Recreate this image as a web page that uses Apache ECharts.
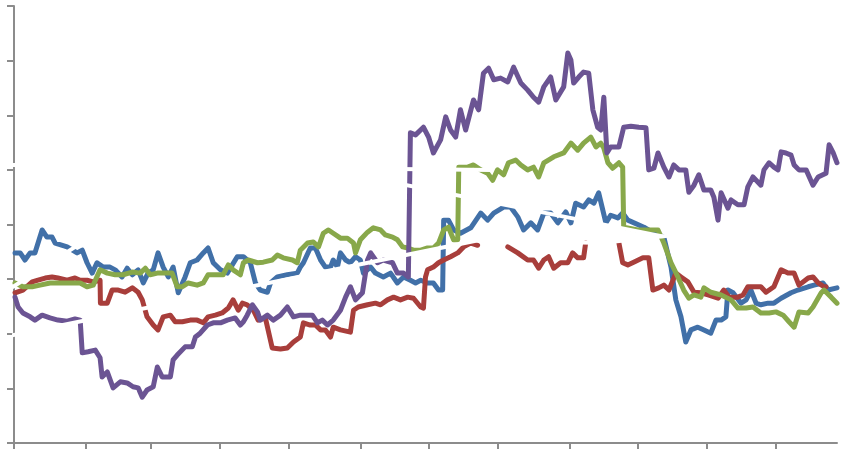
<!DOCTYPE html>
<html>
<head>
<meta charset="utf-8">
<script src="https://cdn.jsdelivr.net/npm/echarts@6/dist/echarts.min.js"></script>
<style>
html,body{margin:0;padding:0;background:#fff;}
#chart{width:843px;height:449px;}
</style>
</head>
<body>
<div id="chart"></div>
<script>
// x values: trading-day index (0..240); y values: index level (0..80)
const monthTicks = [0, 21, 40, 60, 80, 101, 121, 141, 162, 182, 202, 222];

const blueSeries = [
[0.3,34.8],[1.8,34.8],[3.2,33.5],[4.7,34.8],[6.1,34.8],[8.2,39.0],[9.6,37.7],[11.1,37.7],[12.0,36.6],[15.5,35.9],
[18.4,34.8],[19.9,35.3],[21.3,33.0],[22.8,31.1],[24.2,33.0],[26.0,32.2],[28.0,32.2],[29.5,31.7],[31.5,30.4],[33.0,32.0],
[34.5,30.8],[36.2,31.7],[37.7,29.3],[39.1,31.1],[40.6,31.7],[42.0,34.8],[43.5,32.2],[45.0,30.4],[46.4,32.2],[47.9,27.5],
[49.9,30.4],[51.4,33.0],[53.4,33.5],[55.2,34.8],[56.6,35.7],[58.1,33.0],[60.2,31.7],[62.2,31.1],[65.1,34.1],[66.9,34.1],
[68.9,33.0],[70.4,29.3],[71.8,28.0],[73.9,27.6],[74.8,29.3],[76.8,30.4],[79.7,30.8],[82.6,31.1],[83.5,32.2],[84.4,33.0],
[86.4,35.7],[87.9,35.7],[89.4,33.5],[90.8,32.2],[92.3,32.2],[93.1,33.5],[94.3,32.2],[95.2,34.8],[96.7,33.5],[98.1,33.0],
[99.6,34.1],[101.0,33.5],[101.9,31.1],[104.0,32.2],[105.4,31.1],[107.7,30.4],[109.8,31.1],[111.8,29.3],[113.6,30.4],[115.6,29.8],
[117.1,29.3],[118.6,29.8],[120.6,29.3],[122.3,29.3],[123.8,28.0],[125.0,28.0],[125.3,40.8],[126.7,40.8],[128.2,39.0],[130.2,38.4],
[133.2,39.4],[136.1,42.1],[138.1,40.8],[139.9,42.1],[142.8,43.2],[144.8,43.2],[146.9,41.4],[148.6,39.0],[150.7,40.3],[152.7,39.0],
[154.5,42.1],[156.5,42.1],[158.6,40.3],[160.9,42.3],[162.4,40.3],[163.8,43.9],[166.1,43.2],[167.6,44.5],[169.1,43.9],[170.5,45.8],
[172.6,40.3],[174.0,41.7],[176.1,41.2],[177.5,42.1],[179.0,40.8],[183.7,39.5],[186.6,38.4],[189.5,37.7],[191.6,32.2],[193.0,26.2],
[194.5,23.1],[195.9,18.5],[197.4,20.7],[199.4,21.2],[201.2,20.7],[203.2,20.1],[204.7,22.5],[206.2,22.5],[207.6,23.1],[208.2,28.0],
[209.7,27.5],[212.0,25.6],[213.5,26.2],[214.9,28.0],[216.4,25.6],[217.8,25.3],[219.9,25.6],[221.6,25.6],[223.7,26.5],[226.6,27.5],
[228.6,28.0],[231.6,28.6],[233.3,28.9],[235.9,29.3],[237.4,28.0],[240,28.4]
];

// '-' marks stretches hidden in the reference
const redSeries = [
[0.3,27.5],[2.6,28.0],[5.3,29.5],[7.0,29.8],[9.1,30.2],[11.1,30.4],[12.8,30.2],[15.5,29.8],[17.8,30.2],[19.3,29.8],
[21.3,29.8],[23.1,29.5],[25.1,29.8],[25.2,25.6],[27.2,25.6],[28.6,28.0],[30.4,28.0],[32.4,27.6],[34.5,28.4],[36.2,27.6],
[37.4,26.2],[38.8,23.1],[40.6,21.6],[42.0,20.7],[43.5,23.1],[45.6,23.4],[47.0,22.2],[49.1,22.2],[51.4,22.5],[53.4,22.5],
[55.2,22.0],[56.6,23.1],[58.7,23.4],[60.7,23.8],[62.5,24.7],[63.9,26.2],[65.4,24.3],[66.6,25.6],[68.0,25.3],[69.8,24.3],
[71.2,22.5],[73.3,22.9],[75.3,17.4],[77.7,17.2],[79.7,17.4],[81.5,18.5],[83.5,19.4],[84.4,22.0],[86.4,21.6],[87.9,21.6],
[89.4,20.7],[90.8,20.7],[92.3,19.4],[93.1,21.2],[95.2,20.7],[98.1,20.3],[99.0,24.3],[100.4,24.9],[103.1,25.3],[105.4,25.6],
[106.9,25.3],[108.9,26.2],[110.7,26.7],[112.7,26.2],[114.8,26.7],[116.5,26.5],[118.6,24.9],[119.4,24.7],[120.0,30.4],[120.6,31.7],
[122.3,32.2],[123.8,33.0],[125.3,33.5],[127.3,34.1],[129.4,34.8],[131.1,35.9],[133.2,36.6],[135.2,36.2],[139.6,'-'],[144.0,35.9],[146.9,34.8],
[149.8,33.5],[151.5,33.5],[153.0,32.0],[154.5,33.5],[155.9,34.1],[157.4,32.0],[159.4,33.0],[161.5,33.0],[162.9,34.8],[164.4,33.9],
[166.1,33.9],[166.7,36.6],[171.5,'-'],[176.4,36.6],[177.5,33.0],[179.0,32.6],[180.7,33.1],[183.4,33.9],[185.1,33.9],[186.3,28.0],
[188.0,28.4],[189.5,28.9],[191.0,28.0],[193.0,31.1],[194.5,30.4],[196.5,29.5],[198.3,27.6],[200.3,27.5],[202.4,27.1],[205.3,26.5],
[207.0,28.0],[208.5,26.7],[211.1,26.7],[212.6,27.1],[214.0,28.6],[215.8,28.6],[217.8,28.6],[219.3,27.6],[221.6,28.6],[223.7,31.7],
[225.7,31.1],[227.5,31.1],[228.9,28.9],[231.6,30.2],[233.0,30.4],[234.5,29.3],[236.2,28.6],[236.8,28.6]
];

const greenSeries = [
[0.3,29.3],[2.6,28.6],[5.3,28.6],[7.6,28.9],[10.5,29.3],[13.4,29.3],[16.4,29.3],[19.3,29.3],[21.3,28.6],[23.1,28.9],
[25.1,31.7],[27.2,31.1],[29.5,30.8],[31.8,30.8],[34.5,31.3],[36.8,31.1],[38.3,32.0],[39.7,30.8],[41.8,31.1],[44.1,31.1],
[46.1,31.1],[47.6,28.6],[49.1,28.6],[50.8,29.3],[53.4,28.9],[55.2,29.3],[56.6,30.8],[59.3,30.8],[61.0,30.8],[62.5,32.6],
[63.9,31.7],[66.0,30.8],[66.9,33.0],[68.3,33.5],[71.0,33.0],[72.7,33.1],[75.3,33.5],[76.8,34.4],[78.5,33.9],[81.2,33.5],
[82.6,33.0],[83.5,35.3],[85.6,36.6],[87.3,36.8],[88.8,35.9],[90.2,38.4],[91.7,39.0],[93.1,38.4],[95.2,37.5],[97.2,37.5],
[99.0,36.6],[99.6,34.8],[101.0,37.2],[103.1,38.6],[104.8,39.4],[106.9,39.0],[108.3,38.1],[110.4,37.7],[111.8,37.2],[113.3,35.9],
[114.8,35.7],[116.5,35.3],[118.6,35.3],[120.6,35.7],[122.3,35.7],[123.8,36.6],[125.3,39.0],[126.7,39.5],[128.2,37.2],[129.4,37.2],
[129.7,50.5],[132.3,50.5],[134.0,50.9],[136.1,50.0],[138.1,49.4],[139.6,48.1],[141.0,50.0],[142.8,49.1],[144.2,51.3],[146.3,51.8],
[147.8,50.9],[149.8,50.0],[151.5,50.5],[153.0,48.7],[154.5,51.3],[157.4,52.4],[160.3,53.1],[162.4,54.9],[164.4,53.6],[166.1,54.9],
[168.2,56.0],[169.7,54.2],[171.1,54.9],[172.0,54.0],[173.2,51.3],[174.6,50.3],[176.4,51.3],[177.5,50.5],[177.8,39.5],[181.9,39.0],
[187.8,39.0],[189.5,36.6],[191.6,33.0],[193.6,30.4],[195.3,28.0],[196.8,26.5],[198.3,27.1],[200.3,26.7],[201.2,28.4],[203.2,27.6],
[206.2,27.1],[209.1,26.2],[211.1,24.7],[213.5,24.7],[215.5,24.9],[217.8,23.8],[220.2,23.8],[222.2,24.0],[224.3,23.4],[226.0,22.2],
[227.5,21.2],[228.9,24.0],[231.6,23.8],[233.0,24.9],[235.4,27.5],[236.2,28.0],[238.3,26.7],[240,25.6]
];

const purpleSeries = [
[0.3,26.7],[1.2,24.9],[2.6,23.8],[4.7,23.1],[6.1,22.5],[8.2,23.4],[10.5,22.9],[12.8,22.5],[15.5,22.3],[17.8,22.7],
[19.3,22.5],[19.9,16.5],[21.6,16.7],[23.7,17.0],[25.1,15.6],[25.7,12.1],[27.2,13.0],[28.9,10.1],[31.0,11.2],[33.0,11.0],
[34.7,10.3],[36.2,10.1],[37.4,8.4],[38.8,9.7],[40.6,10.3],[41.8,13.9],[43.2,12.1],[45.6,12.1],[46.4,15.2],[47.6,16.1],
[49.9,17.6],[52.0,17.6],[52.9,19.4],[54.3,20.1],[56.4,21.6],[58.1,22.0],[60.2,22.0],[62.2,22.5],[64.5,22.9],[66.0,21.6],
[66.9,22.2],[68.0,23.4],[69.5,25.3],[71.0,24.0],[71.8,22.5],[73.9,23.4],[75.6,22.5],[77.7,23.4],[79.7,24.9],[81.5,23.1],
[83.5,23.4],[85.6,23.4],[87.0,23.4],[88.5,22.0],[89.9,22.5],[91.4,21.6],[93.1,22.5],[95.2,24.3],[96.7,26.7],[98.1,28.6],
[99.6,26.2],[101.6,27.5],[103.1,33.5],[104.0,34.8],[106.0,33.0],[107.7,33.5],[110.4,33.0],[111.8,31.1],[113.6,31.1],[115.0,30.4],
[115.6,56.8],[117.1,56.4],[119.4,57.8],[120.9,56.0],[122.3,53.1],[124.4,55.5],[125.9,59.7],[127.3,57.3],[128.8,56.0],[130.2,61.0],
[131.7,57.3],[134.0,62.8],[135.5,61.0],[136.9,67.7],[138.4,68.6],[139.9,66.5],[141.9,66.8],[144.0,66.1],[145.7,68.8],[147.8,65.9],
[149.8,64.6],[151.5,63.3],[153.0,62.4],[154.5,65.2],[156.5,67.0],[158.0,62.8],[160.3,65.2],[161.5,71.4],[162.4,70.1],[163.2,65.9],
[164.7,67.0],[166.1,67.9],[167.6,67.7],[168.8,61.0],[170.2,57.8],[171.1,57.3],[172.0,63.3],[172.9,53.1],[174.0,54.2],[176.4,54.2],
[177.8,57.8],[179.9,58.0],[182.2,57.8],[184.3,57.7],[185.1,50.0],[186.6,50.3],[187.8,53.1],[189.5,50.5],[191.0,48.7],[192.4,50.9],
[193.9,50.0],[195.9,50.0],[196.8,45.9],[198.3,47.2],[199.7,49.1],[201.2,46.3],[203.2,46.3],[204.1,45.0],[205.3,40.8],[206.2,45.8],
[208.2,43.0],[209.1,44.5],[211.1,43.6],[212.9,43.6],[214.0,46.9],[215.5,48.7],[216.9,47.8],[217.8,47.2],[218.7,50.0],[220.2,51.3],
[221.6,50.5],[222.8,50.0],[223.7,53.3],[225.1,53.1],[226.6,52.7],[227.5,50.9],[228.9,50.0],[231.0,50.0],[233.0,47.2],[234.5,48.7],
[236.8,49.4],[237.7,54.6],[238.9,53.1],[240,51.3]
];

// white overlay strokes seen crossing the chart
const whiteStrokeA = [[0,19.8],[136.1,37.2],[171.1,36.6],[190.1,37.9]];
const whiteStrokeB = [[0,50.9],[139,50.0]];
const whiteStrokeC = [[92.3,50.0],[188.6,37.9]];
const whiteStrokeD = [[0,28.7],[17.8,35.9]];

const seriesDefs = [
  {name:'Series 1', data: blueSeries,   color:'#4170A8'},
  {name:'Series 2', data: redSeries,    color:'#A83E3B'},
  {name:'Series 3', data: greenSeries,  color:'#88A84A'},
  {name:'Series 4', data: purpleSeries, color:'#6B5493'}
];
const whiteDefs = [whiteStrokeA, whiteStrokeB, whiteStrokeC, whiteStrokeD];

const chart = echarts.init(document.getElementById('chart'), null, {renderer:'canvas'});
const axisColor = '#8C8C8C';
chart.setOption({
  animation: false,
  backgroundColor: '#ffffff',
  grid: {left: 14, right: 6, top: 6, bottom: 6, containLabel: false},
  xAxis: {
    type: 'value', min: 0, max: 240,
    axisLine: {show: true, onZero: false, lineStyle: {color: axisColor, width: 2}},
    axisTick: {show: true, length: 6, lineStyle: {color: axisColor, width: 2}, customValues: monthTicks},
    axisLabel: {show: false},
    splitLine: {show: false}
  },
  yAxis: {
    type: 'value', min: 0, max: 80, interval: 10,
    axisLine: {show: true, onZero: false, lineStyle: {color: axisColor, width: 2}},
    axisTick: {show: true, length: 7, lineStyle: {color: axisColor, width: 2}},
    axisLabel: {show: false},
    splitLine: {show: false}
  },
  series: seriesDefs.map(s => ({
    type: 'line', name: s.name, data: s.data, symbol: 'none', showSymbol: false, connectNulls: false,
    lineStyle: {color: s.color, width: 5, cap: 'round', join: 'round'},
    itemStyle: {color: s.color}, clip: false, silent: true
  })).concat(whiteDefs.map((w, i) => ({
    type: 'line', name: 'white' + i, data: w, symbol: 'none', showSymbol: false, z: 5,
    lineStyle: {color: '#ffffff', width: 4, cap: 'square'}, clip: false, silent: true
  })))
});
</script>
</body>
</html>
